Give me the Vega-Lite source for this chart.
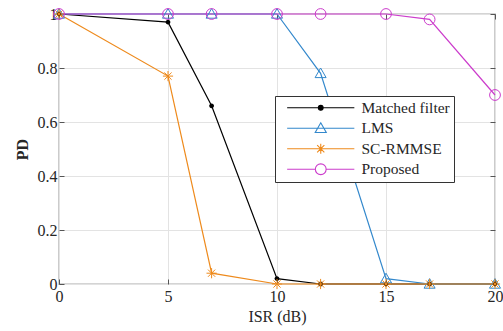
{
  "$schema": "https://vega.github.io/schema/vega-lite/v6.json",
  "width": 436,
  "height": 270,
  "autosize": "none",
  "padding": {"left": 59, "top": 14, "right": 8, "bottom": 47},
  "background": "white",
  "config": {
    "font": "Liberation Serif",
    "view": {"stroke": "#555555", "strokeWidth": 1.2},
    "axis": {
      "labelFont": "Liberation Serif",
      "titleFont": "Liberation Serif",
      "labelFontSize": 16,
      "titleFontSize": 16,
      "titleFontWeight": "normal",
      "labelColor": "#262626",
      "titleColor": "#262626",
      "gridColor": "#e3e3e3",
      "gridWidth": 1,
      "domain": false,
      "labelFlush": false,
      "tickColor": "#555555",
      "tickSize": -5,
      "tickWidth": 1
    },
    "legend": {
      "labelFont": "Liberation Serif",
      "labelFontSize": 15.5,
      "labelColor": "#262626"
    }
  },
  "resolve": {"axis": {"x": "independent", "y": "independent"}},
  "data": {
    "values": [
      {"method": "Matched filter", "isr": 0, "pd": 1},
      {"method": "Matched filter", "isr": 5, "pd": 0.97},
      {"method": "Matched filter", "isr": 7, "pd": 0.66},
      {"method": "Matched filter", "isr": 10, "pd": 0.02},
      {"method": "Matched filter", "isr": 12, "pd": 0},
      {"method": "Matched filter", "isr": 15, "pd": 0},
      {"method": "Matched filter", "isr": 17, "pd": 0},
      {"method": "Matched filter", "isr": 20, "pd": 0},
      {"method": "LMS", "isr": 0, "pd": 1},
      {"method": "LMS", "isr": 5, "pd": 1},
      {"method": "LMS", "isr": 7, "pd": 1},
      {"method": "LMS", "isr": 10, "pd": 1},
      {"method": "LMS", "isr": 12, "pd": 0.78},
      {"method": "LMS", "isr": 15, "pd": 0.02},
      {"method": "LMS", "isr": 17, "pd": 0},
      {"method": "LMS", "isr": 20, "pd": 0},
      {"method": "SC-RMMSE", "isr": 0, "pd": 1},
      {"method": "SC-RMMSE", "isr": 5, "pd": 0.77},
      {"method": "SC-RMMSE", "isr": 7, "pd": 0.04},
      {"method": "SC-RMMSE", "isr": 10, "pd": 0},
      {"method": "SC-RMMSE", "isr": 12, "pd": 0},
      {"method": "SC-RMMSE", "isr": 15, "pd": 0},
      {"method": "SC-RMMSE", "isr": 17, "pd": 0},
      {"method": "SC-RMMSE", "isr": 20, "pd": 0},
      {"method": "Proposed", "isr": 0, "pd": 1},
      {"method": "Proposed", "isr": 5, "pd": 1},
      {"method": "Proposed", "isr": 7, "pd": 1},
      {"method": "Proposed", "isr": 10, "pd": 1},
      {"method": "Proposed", "isr": 12, "pd": 1},
      {"method": "Proposed", "isr": 15, "pd": 1},
      {"method": "Proposed", "isr": 17, "pd": 0.98},
      {"method": "Proposed", "isr": 20, "pd": 0.7}
    ]
  },
  "layer": [
    {
      "mark": {"type": "line", "strokeWidth": 1.2},
      "encoding": {
        "x": {
          "field": "isr", "type": "quantitative",
          "scale": {"domain": [0, 20], "nice": false},
          "axis": {"values": [0, 5, 10, 15, 20], "title": "ISR (dB)", "labelFont": "Liberation Serif", "titleFont": "Liberation Serif", "labelFontSize": 16, "titleFontSize": 16, "labelFlush": false, "labelPadding": 9, "titlePadding": 4}
        },
        "y": {
          "field": "pd", "type": "quantitative",
          "scale": {"domain": [0, 1], "nice": false},
          "axis": {"values": [0, 0.2, 0.4, 0.6, 0.8, 1], "format": "~g", "title": "PD", "labelFont": "Liberation Serif", "titleFont": "Liberation Serif", "labelFontSize": 16, "titleFontSize": 16, "titleFontWeight": "bold", "labelFlush": false, "labelPadding": 7, "titlePadding": 7}
        },
        "color": {
          "field": "method", "type": "nominal",
          "scale": {
            "domain": ["Matched filter", "LMS", "SC-RMMSE", "Proposed"],
            "range": ["#000000", "#3388cc", "#ee8a1c", "#cc3ccc"]
          },
          "legend": {
            "title": null,
            "orient": "none",
            "legendX": 216,
            "legendY": 82,
            "fillColor": "white",
            "strokeColor": "#333333",
            "padding": 4,
            "rowPadding": 3.5,
            "symbolSize": 144,
            "symbolOffset": 34,
            "labelOffset": 33,
            "symbolStrokeWidth": 1.1,
            "encode": {
              "symbols": {
                "update": {
                  "shape": {"signal": "datum.value === 'Matched filter' ? 'M-5.6,0H5.6M-0.4,0A0.4,0.4,0,1,0,0.4,0A0.4,0.4,0,1,0,-0.4,0Z' : datum.value === 'LMS' ? 'M-5.6,0H5.6M0,-0.9L0.92,0.7L-0.92,0.7Z' : datum.value === 'SC-RMMSE' ? 'M-5.6,0H5.6M-0.85,0H0.85M0,-0.85V0.85M-0.6,-0.6L0.6,0.6M-0.6,0.6L0.6,-0.6' : 'M-5.6,0H-0.9M0.9,0H5.6M-0.9,0A0.9,0.9,0,1,0,0.9,0A0.9,0.9,0,1,0,-0.9,0Z'"},
                  "fill": {"signal": "datum.value === 'Matched filter' ? '#000000' : 'transparent'"},
                  "fillOpacity": {"signal": "datum.value === 'Matched filter' ? 1 : 0"},
                  "size": {"value": 144},
                  "strokeWidth": {"value": 1.1}
                }
              }
            }
          }
        }
      }
    },
    {
      "transform": [{"filter": "datum.method === 'Matched filter'"}],
      "mark": {"type": "point", "filled": true, "size": 144, "opacity": 1, "shape": "M-0.4,0A0.4,0.4,0,1,0,0.4,0A0.4,0.4,0,1,0,-0.4,0Z"},
      "encoding": {
        "x": {"field": "isr", "type": "quantitative", "axis": null},
        "y": {"field": "pd", "type": "quantitative", "axis": null},
        "color": {"field": "method", "type": "nominal", "legend": null}
      }
    },
    {
      "transform": [{"filter": "datum.method === 'LMS'"}],
      "mark": {"type": "point", "filled": false, "size": 144, "strokeWidth": 1, "opacity": 1, "shape": "M0,-0.9L0.92,0.7L-0.92,0.7Z"},
      "encoding": {
        "x": {"field": "isr", "type": "quantitative", "axis": null},
        "y": {"field": "pd", "type": "quantitative", "axis": null},
        "color": {"field": "method", "type": "nominal", "legend": null}
      }
    },
    {
      "transform": [{"filter": "datum.method === 'SC-RMMSE'"}],
      "mark": {"type": "point", "filled": false, "size": 144, "strokeWidth": 1, "opacity": 1, "shape": "M-0.85,0H0.85M0,-0.85V0.85M-0.6,-0.6L0.6,0.6M-0.6,0.6L0.6,-0.6"},
      "encoding": {
        "x": {"field": "isr", "type": "quantitative", "axis": null},
        "y": {"field": "pd", "type": "quantitative", "axis": null},
        "color": {"field": "method", "type": "nominal", "legend": null}
      }
    },
    {
      "transform": [{"filter": "datum.method === 'Proposed'"}],
      "mark": {"type": "point", "filled": false, "size": 144, "strokeWidth": 1, "opacity": 1, "shape": "M-0.9,0A0.9,0.9,0,1,0,0.9,0A0.9,0.9,0,1,0,-0.9,0Z"},
      "encoding": {
        "x": {
          "field": "isr", "type": "quantitative",
          "axis": {"orient": "top", "values": [0, 5, 10, 15, 20], "labels": false, "title": null, "grid": false}
        },
        "y": {
          "field": "pd", "type": "quantitative",
          "axis": {"orient": "right", "values": [0, 0.2, 0.4, 0.6, 0.8, 1], "labels": false, "title": null, "grid": false}
        },
        "color": {"field": "method", "type": "nominal", "legend": null}
      }
    }
  ]
}
